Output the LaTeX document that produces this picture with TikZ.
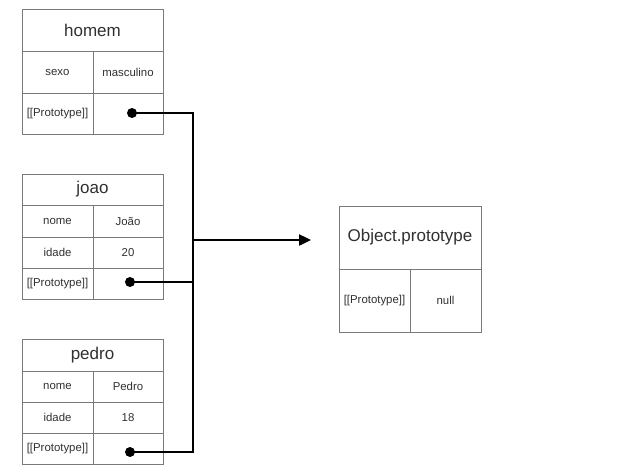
\documentclass[tikz,border=0pt]{standalone}
\usepackage{fontspec}
\setmainfont{Liberation Sans}
\usetikzlibrary{arrows.meta}
\definecolor{cellline}{HTML}{7A7A7A}
\definecolor{celltext}{HTML}{303030}
\tikzset{
  cell/.style={draw=cellline, line width=0.9pt, anchor=north west, inner sep=0pt, outer sep=0pt,
    text=celltext, font=\fontsize{11.4}{13}\selectfont},
  titlecell/.style={cell, font=\fontsize{17}{20}\selectfont},
  dotmark/.style={circle, fill=black, inner sep=0pt, minimum size=10pt},
  wire/.style={line width=2.4pt, line join=miter},
}
\begin{document}
\begin{tikzpicture}[x=1pt, y=-1pt]
\useasboundingbox (0,0) rectangle (623,474);

% homem
\node[titlecell, minimum width=141pt, minimum height=42pt] (homem) at (22,9) {homem};
\node[cell, minimum width=71pt, minimum height=42pt] (hk1) at (22,51) {sexo};
\node[cell, minimum width=70pt, minimum height=42pt] (hv1) at (93,51) {masculino};
\node[cell, minimum width=71pt, minimum height=41pt] (hk2) at (22,93) {[[Prototype]]};
\node[cell, minimum width=70pt, minimum height=41pt] (hv2) at (93,93) {};

% joao
\node[titlecell, minimum width=141pt, minimum height=31pt] (joao) at (22,174) {joao};
\node[cell, minimum width=71pt, minimum height=32pt] (jk1) at (22,205) {nome};
\node[cell, minimum width=70pt, minimum height=32pt] (jv1) at (93,205) {João};
\node[cell, minimum width=71pt, minimum height=31pt] (jk2) at (22,237) {idade};
\node[cell, minimum width=70pt, minimum height=31pt] (jv2) at (93,237) {20};
\node[cell, minimum width=71pt, minimum height=31pt] (jk3) at (22,268) {[[Prototype]]};
\node[cell, minimum width=70pt, minimum height=31pt] (jv3) at (93,268) {};

% pedro
\node[titlecell, minimum width=141pt, minimum height=32pt] (pedro) at (22,339) {pedro};
\node[cell, minimum width=71pt, minimum height=31pt] (pk1) at (22,371) {nome};
\node[cell, minimum width=70pt, minimum height=31pt] (pv1) at (93,371) {Pedro};
\node[cell, minimum width=71pt, minimum height=31pt] (pk2) at (22,402) {idade};
\node[cell, minimum width=70pt, minimum height=31pt] (pv2) at (93,402) {18};
\node[cell, minimum width=71pt, minimum height=31pt] (pk3) at (22,433) {[[Prototype]]};
\node[cell, minimum width=70pt, minimum height=31pt] (pv3) at (93,433) {};

% Object.prototype
\node[titlecell, minimum width=142pt, minimum height=63pt] (objproto) at (339,206) {Object.prototype};
\node[cell, minimum width=71pt, minimum height=63pt] (ok1) at (339,269) {[[Prototype]]};
\node[cell, minimum width=71pt, minimum height=63pt] (ov1) at (410,269) {null};

% prototype links
\node[dotmark] (hdot) at (132,113) {};
\node[dotmark] (jdot) at (130,282) {};
\node[dotmark] (pdot) at (130,452) {};
\coordinate (bustop) at (193,113);
\coordinate (busbot) at (193,452);
\coordinate (fork) at (193,240);
\coordinate (tip) at (311,240);

\draw[wire] (hdot.center) -- (bustop) -- (busbot) -- (pdot.center);
\draw[wire] (jdot.center) -- (jdot.center -| bustop);
\draw[wire, -{Triangle[length=12pt, width=11pt]}] (fork) -- (tip);
\end{tikzpicture}
\end{document}
